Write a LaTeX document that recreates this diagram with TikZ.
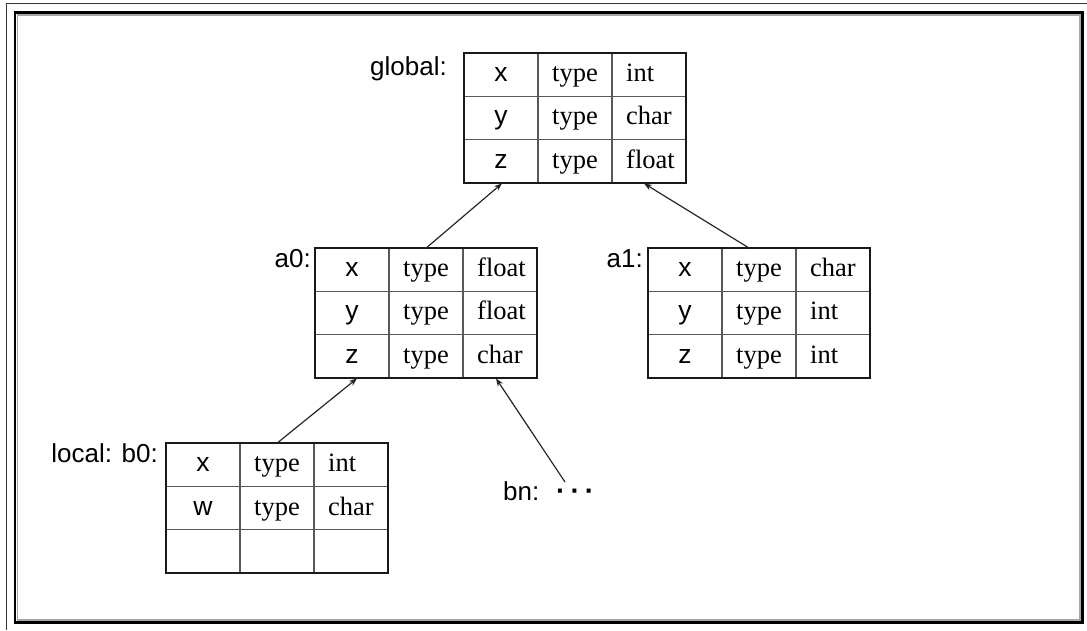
\documentclass[tikz,border=0pt]{standalone}
\usepackage{fontspec}
\setmainfont{Liberation Serif}
\setsansfont{Liberation Sans}
\usetikzlibrary{calc,arrows.meta}

\tikzset{
  tabbox/.style={minimum width=222pt, minimum height=130pt, inner sep=0pt, anchor=north west},
  tabframe/.style={draw=black!90, line width=2pt},
  tabgrid/.style={draw=black!65, line width=1.4pt},
  vname/.style={font=\sffamily\fontsize{26.5}{30}\selectfont, anchor=base, inner sep=0pt},
  vtype/.style={font=\rmfamily\fontsize{26.5}{30}\selectfont, anchor=base, inner sep=0pt},
  vval/.style={font=\rmfamily\fontsize{26.5}{30}\selectfont, anchor=base west, inner sep=0pt},
  lbl/.style={font=\sffamily\fontsize{26}{30}\selectfont, anchor=base east, inner sep=0pt},
  link/.style={draw=black!85, line width=1.2pt, -{Stealth[length=8pt,width=6pt]}},
}

% symbol table: name, left x, top y, rows "name/kind/type"
\newcommand{\symtable}[4]{%
  \node[tabbox] (#1) at (#2,#3) {};
  \draw[tabgrid] ($(#1.north west)+(74,0)$) -- ($(#1.south west)+(74,0)$);
  \draw[tabgrid] ($(#1.north west)+(148,0)$) -- ($(#1.south west)+(148,0)$);
  \draw[tabgrid] ($(#1.north west)+(0,43.33)$) -- ($(#1.north east)+(0,43.33)$);
  \draw[tabgrid] ($(#1.north west)+(0,86.67)$) -- ($(#1.north east)+(0,86.67)$);
  \draw[tabframe] (#1.north west) rectangle (#1.south east);
  \foreach \vn/\vk/\vt [count=\i] in {#4} {
    \node[vname] (#1-\i-name) at ($(#1.north west)+(37,43.33*\i-14.67)$) {\vn};
    \node[vtype] (#1-\i-kind) at ($(#1.north west)+(111,43.33*\i-14.67)$) {\vk};
    \node[vval] (#1-\i-type) at ($(#1.north west)+(162,43.33*\i-14.67)$) {\vt};
  }
}

\begin{document}
\begin{tikzpicture}[x=1pt,y=-1pt]
  \useasboundingbox (0,0) rectangle (1087,630);
  % page frame
  \draw[line width=1pt, black!80] (6,630) -- (6,3) -- (1087,3);
  \draw[line width=2.4pt, black] (15,12.5) rectangle (1082.5,622.5);
  \draw[line width=1.5pt, black!35] (17.4,14.9) rectangle (1080.1,620.1);

  % scopes
  \symtable{global}{464}{53}{x/type/int, y/type/char, z/type/float}
  \symtable{a0}{315}{248}{x/type/float, y/type/float, z/type/char}
  \symtable{a1}{648}{248}{x/type/char, y/type/int, z/type/int}
  \symtable{b0}{166}{443}{x/type/int, w/type/char}

  % labels
  \node[lbl] (glabel) at (447,75) {global:};
  \node[lbl] (a0label) at (311,267) {a0:};
  \node[lbl] (a1label) at (643,267) {a1:};
  \node[lbl] (b0label) at (158,462) {local: b0:};
  \node[lbl, anchor=base west] (bnlabel) at (503,500) {bn:};
  \node[lbl, anchor=base west, font=\sffamily\bfseries\fontsize{28}{30}\selectfont] (bndots) at (556,500) {·\hspace{5pt}·\hspace{5pt}·};
  \coordinate (bnend) at (565,482);

  % links to enclosing scopes
  \draw[link] (a0.north) -- ($(global.south west)+(38,0)$);
  \draw[link] ($(a1.north west)+(101,0)$) -- ($(global.south west)+(180,0)$);
  \draw[link] (b0.north) -- ($(a0.south west)+(42,0)$);
  \draw[link] (bnend) -- ($(a0.south west)+(181,0)$);
\end{tikzpicture}
\end{document}
